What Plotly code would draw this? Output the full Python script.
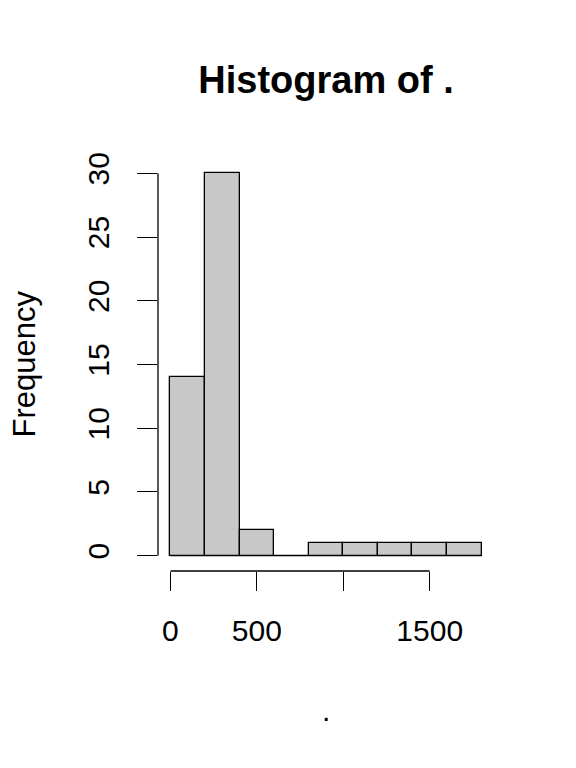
import plotly.graph_objects as go

# histogram bins (breaks of 200) and counts
bin_edges = [0, 200, 400, 600, 800, 1000, 1200, 1400, 1600, 1800]
counts = [14, 30, 2, 0, 1, 1, 1, 1, 1]
x_ticks = [0, 500, 1000, 1500]
x_ticktext = ["0", "500", "", "1500"]  # R drops "1000" because it would overlap
y_ticks = [0, 5, 10, 15, 20, 25, 30]

FONT = "Liberation Sans, Arial, Helvetica, sans-serif"
W, H = 576, 768
# page body has an 8px margin, so offsets are shifted by that
M_L, M_R, M_T, M_B = 150, 90, 150, 205
plot_w = W - M_L - M_R
plot_h = H - M_T - M_B

mids = [(a + b) / 2 for a, b in zip(bin_edges[:-1], bin_edges[1:])]
widths = [b - a for a, b in zip(bin_edges[:-1], bin_edges[1:])]

# R pads the axis range by 4% on each side
xspan = bin_edges[-1] - bin_edges[0]
ymax = max(counts)
x_range = [bin_edges[0] - 0.04 * xspan, bin_edges[-1] + 0.04 * xspan]
y_range = [-0.04 * ymax, ymax * 1.04]

fig = go.Figure()
fig.add_trace(go.Bar(
    x=mids, y=counts, width=widths,
    marker=dict(color="#C8C8C8", line=dict(color="black", width=1.3)),
    hoverinfo="x+y",
))

# baseline under the bars (shows the empty bin outline)
fig.add_shape(type="line", xref="x", yref="y",
              x0=bin_edges[0], x1=bin_edges[-1], y0=0, y1=0,
              line=dict(color="black", width=1.3))

# axis lines only span the tick range, like base R
fig.add_shape(type="line", xref="x", yref="paper",
              x0=x_ticks[0], x1=x_ticks[-1], y0=0, y1=0,
              line=dict(color="black", width=1.3))
fig.add_shape(type="line", xref="paper", yref="y",
              x0=0, x1=0, y0=y_ticks[0], y1=y_ticks[-1],
              line=dict(color="black", width=1.3))

fig.update_xaxes(
    range=x_range, tickvals=x_ticks, ticktext=x_ticktext,
    ticks="outside", ticklen=19, tickwidth=1.3, tickcolor="black",
    showline=False, showgrid=False, zeroline=False,
    tickfont=dict(family=FONT, size=30, color="black"),
    ticklabelstandoff=14,
)
fig.update_yaxes(
    range=y_range, tickvals=y_ticks,
    ticks="outside", ticklen=20, tickwidth=1.3, tickcolor="black",
    showline=False, showgrid=False, zeroline=False, tickangle=-90,
    tickfont=dict(family=FONT, size=30, color="black"),
    ticklabelstandoff=16,
)

fig.add_annotation(text=".", xref="paper", yref="paper",
                   x=0.5, y=-(702 - (H - M_B)) / plot_h,
                   showarrow=False, yanchor="middle",
                   font=dict(family=FONT, size=30, color="black"))
fig.add_annotation(text="Frequency", xref="paper", yref="paper",
                   x=-(M_L - 16) / plot_w, y=0.5, textangle=-90,
                   showarrow=False, xanchor="center", yanchor="middle",
                   font=dict(family=FONT, size=31, color="black"))

fig.update_layout(
    width=W, height=H,
    margin=dict(l=M_L, r=M_R, t=M_T, b=M_B),
    title=dict(text="<b>Histogram of .</b>", x=0.5, xref="paper",
               y=1 - 72 / H, yref="container", xanchor="center", yanchor="middle",
               font=dict(family=FONT, size=38, color="black")),
    plot_bgcolor="white", paper_bgcolor="white",
    showlegend=False, bargap=0,
)

fig.write_html("out.html")
